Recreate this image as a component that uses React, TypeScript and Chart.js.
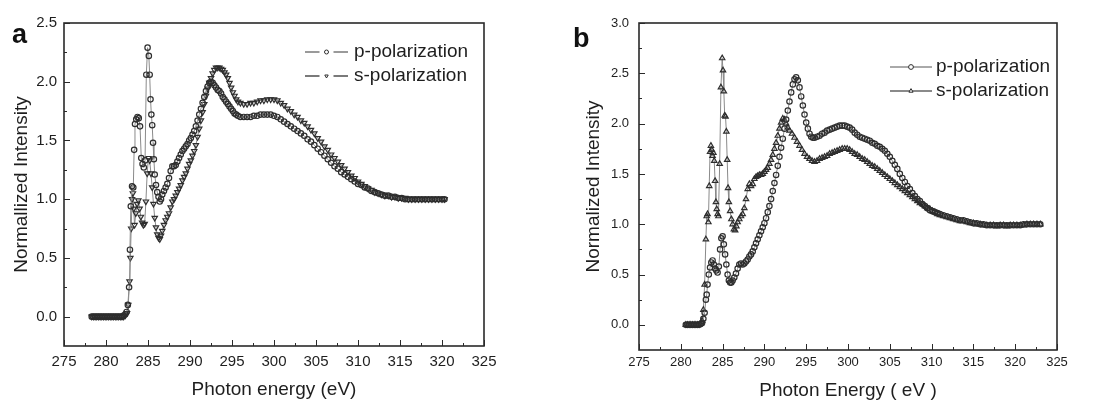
import React, { useEffect, useRef } from 'react';
import { Chart, registerables } from 'chart.js';
import { drawPoint } from 'chart.js/helpers';

Chart.register(...registerables);
Chart.defaults.font.family = '"Liberation Sans", Arial, sans-serif';

// ---------- tick values ----------
const X_TICKS = [275, 280, 285, 290, 295, 300, 305, 310, 315, 320, 325];
const A_Y_TICKS = [0, 0.5, 1.0, 1.5, 2.0, 2.5];
const B_Y_TICKS = [0, 0.5, 1.0, 1.5, 2.0, 2.5, 3.0];

// ---------- panel a : [photon energy eV, normalized intensity] ----------
const A_P = [
  [278.3, 0], [278.5, 0], [278.7, 0], [278.9, 0], [279.1, 0], [279.3, 0], [279.5, 0], [279.7, 0], [279.9, 0], [280.1, 0],
  [280.3, 0], [280.5, 0], [280.7, 0], [280.9, 0], [281.1, 0], [281.3, 0], [281.5, 0], [281.7, 0], [281.9, 0], [282.1, 0.01],
  [282.3, 0.02], [282.45, 0.04], [282.6, 0.1], [282.75, 0.25], [282.85, 0.57], [282.95, 0.94], [283.1, 1.11], [283.25, 1.1],
  [283.35, 1.42], [283.45, 1.64], [283.6, 1.68], [283.75, 1.7], [283.9, 1.69], [284.05, 1.62], [284.2, 1.35], [284.35, 1.3],
  [284.5, 1.27], [284.65, 1.33], [284.8, 2.06], [284.95, 2.29], [285.1, 2.22], [285.2, 2.06], [285.3, 1.85], [285.4, 1.72],
  [285.5, 1.63], [285.6, 1.48], [285.7, 1.34], [285.8, 1.21], [285.95, 1.12], [286.1, 1.06], [286.25, 1.02], [286.4, 0.98],
  [286.55, 1.0], [286.7, 1.04], [286.9, 1.07], [287.1, 1.1], [287.3, 1.13], [287.5, 1.18], [287.7, 1.24], [287.9, 1.28],
  [288.1, 1.28], [288.3, 1.29], [288.5, 1.32], [288.7, 1.35], [288.9, 1.38], [289.1, 1.41], [289.3, 1.43], [289.5, 1.45],
  [289.7, 1.47], [289.9, 1.5], [290.1, 1.52], [290.3, 1.55], [290.5, 1.58], [290.7, 1.62], [290.9, 1.67], [291.1, 1.72],
  [291.3, 1.77], [291.5, 1.82], [291.7, 1.87], [291.9, 1.92], [292.1, 1.96], [292.3, 1.99], [292.5, 2.0], [292.7, 1.99],
  [292.9, 1.97], [293.1, 1.95], [293.3, 1.93], [293.5, 1.92], [293.7, 1.9], [293.9, 1.87], [294.1, 1.85], [294.3, 1.83],
  [294.5, 1.81], [294.7, 1.79], [294.9, 1.77], [295.1, 1.75], [295.3, 1.73], [295.5, 1.72], [295.7, 1.71], [296.0, 1.7],
  [296.4, 1.7], [296.8, 1.7], [297.2, 1.7], [297.6, 1.71], [298.0, 1.71], [298.4, 1.72], [298.8, 1.72], [299.2, 1.72],
  [299.6, 1.72], [300.0, 1.71], [300.4, 1.7], [300.8, 1.68], [301.2, 1.66], [301.6, 1.64], [302.0, 1.62], [302.4, 1.6],
  [302.8, 1.58], [303.2, 1.56], [303.6, 1.54], [304.0, 1.51], [304.4, 1.49], [304.8, 1.46], [305.2, 1.43], [305.6, 1.4],
  [306.0, 1.37], [306.4, 1.34], [306.8, 1.31], [307.2, 1.28], [307.6, 1.26], [308.0, 1.23], [308.4, 1.21], [308.8, 1.19],
  [309.2, 1.17], [309.6, 1.15], [310.0, 1.13], [310.4, 1.12], [310.8, 1.1], [311.2, 1.09], [311.6, 1.07], [312.0, 1.06],
  [312.4, 1.05], [312.8, 1.04], [313.2, 1.03], [313.6, 1.03], [314.0, 1.02], [314.4, 1.02], [314.8, 1.01], [315.2, 1.01],
  [315.6, 1.0], [316.0, 1.0], [316.4, 1.0], [316.8, 1.0], [317.2, 1.0], [317.6, 1.0], [318.0, 1.0], [318.4, 1.0],
  [318.8, 1.0], [319.2, 1.0], [319.6, 1.0], [320.0, 1.0], [320.3, 1.0],
];

const A_S = [
  [278.3, 0], [278.5, 0], [278.7, 0], [278.9, 0], [279.1, 0], [279.3, 0], [279.5, 0], [279.7, 0], [279.9, 0], [280.1, 0],
  [280.3, 0], [280.5, 0], [280.7, 0], [280.9, 0], [281.1, 0], [281.3, 0], [281.5, 0], [281.7, 0], [281.9, 0], [282.1, 0],
  [282.3, 0.01], [282.5, 0.03], [282.65, 0.1], [282.8, 0.3], [282.9, 0.5], [283.0, 0.75], [283.1, 1.0], [283.2, 1.05],
  [283.3, 0.92], [283.4, 0.78], [283.55, 0.88], [283.7, 0.96], [283.85, 0.99], [284.0, 0.92], [284.15, 0.85], [284.3, 0.8],
  [284.45, 0.78], [284.6, 0.79], [284.75, 0.98], [284.9, 1.22], [285.05, 1.35], [285.2, 1.33], [285.35, 1.22], [285.5, 1.1],
  [285.65, 0.96], [285.8, 0.84], [285.95, 0.76], [286.1, 0.7], [286.25, 0.67], [286.4, 0.66], [286.55, 0.69], [286.7, 0.73],
  [286.9, 0.78], [287.1, 0.82], [287.3, 0.85], [287.5, 0.88], [287.7, 0.93], [287.9, 0.98], [288.1, 1.0], [288.3, 1.03],
  [288.5, 1.06], [288.7, 1.09], [288.9, 1.12], [289.1, 1.16], [289.3, 1.19], [289.5, 1.22], [289.7, 1.26], [289.9, 1.3],
  [290.1, 1.33], [290.3, 1.37], [290.5, 1.41], [290.7, 1.46], [290.9, 1.53], [291.1, 1.6], [291.3, 1.67], [291.5, 1.74],
  [291.7, 1.81], [291.9, 1.88], [292.1, 1.94], [292.3, 1.99], [292.5, 2.03], [292.7, 2.07], [292.9, 2.1], [293.1, 2.12],
  [293.3, 2.12], [293.5, 2.12], [293.7, 2.11], [293.9, 2.1], [294.1, 2.08], [294.3, 2.06], [294.5, 2.03], [294.7, 1.99],
  [294.9, 1.95], [295.1, 1.91], [295.3, 1.88], [295.5, 1.85], [295.7, 1.83], [296.0, 1.82], [296.4, 1.81], [296.8, 1.81],
  [297.2, 1.82], [297.6, 1.82], [298.0, 1.83], [298.4, 1.84], [298.8, 1.84], [299.2, 1.85], [299.6, 1.85], [300.0, 1.85],
  [300.4, 1.84], [300.8, 1.82], [301.2, 1.8], [301.6, 1.77], [302.0, 1.75], [302.4, 1.72], [302.8, 1.7], [303.2, 1.67],
  [303.6, 1.65], [304.0, 1.62], [304.4, 1.59], [304.8, 1.56], [305.2, 1.52], [305.6, 1.49], [306.0, 1.45], [306.4, 1.42],
  [306.8, 1.38], [307.2, 1.35], [307.6, 1.32], [308.0, 1.29], [308.4, 1.26], [308.8, 1.23], [309.2, 1.2], [309.6, 1.18],
  [310.0, 1.15], [310.4, 1.13], [310.8, 1.11], [311.2, 1.09], [311.6, 1.08], [312.0, 1.06], [312.4, 1.05], [312.8, 1.04],
  [313.2, 1.03], [313.6, 1.03], [314.0, 1.02], [314.4, 1.02], [314.8, 1.01], [315.2, 1.01], [315.6, 1.01], [316.0, 1.0],
  [316.4, 1.0], [316.8, 1.0], [317.2, 1.0], [317.6, 1.0], [318.0, 1.0], [318.4, 1.0], [318.8, 1.0], [319.2, 1.0],
  [319.6, 1.0], [320.0, 1.0], [320.3, 1.0],
];

// ---------- panel b ----------
const B_P = [
  [280.6, 0], [280.8, 0], [281.0, 0], [281.2, 0], [281.4, 0], [281.6, 0], [281.8, 0], [282.0, 0], [282.2, 0], [282.4, 0.01],
  [282.55, 0.02], [282.7, 0.06], [282.85, 0.12], [283.0, 0.25], [283.1, 0.3], [283.2, 0.4], [283.35, 0.5], [283.5, 0.57],
  [283.65, 0.62], [283.8, 0.64], [283.95, 0.6], [284.1, 0.56], [284.25, 0.54], [284.4, 0.52], [284.55, 0.58], [284.7, 0.75],
  [284.85, 0.86], [285.0, 0.88], [285.15, 0.8], [285.3, 0.7], [285.45, 0.6], [285.6, 0.5], [285.75, 0.44], [285.9, 0.42],
  [286.05, 0.42], [286.2, 0.44], [286.4, 0.47], [286.6, 0.51], [286.8, 0.56], [287.0, 0.6], [287.2, 0.61], [287.4, 0.6],
  [287.6, 0.61], [287.8, 0.63], [288.0, 0.65], [288.2, 0.68], [288.4, 0.7], [288.6, 0.73], [288.8, 0.77], [289.0, 0.81],
  [289.2, 0.85], [289.4, 0.89], [289.6, 0.93], [289.8, 0.97], [290.0, 1.01], [290.2, 1.06], [290.4, 1.12], [290.6, 1.18],
  [290.8, 1.25], [291.0, 1.33], [291.2, 1.41], [291.4, 1.49], [291.6, 1.58], [291.8, 1.67], [292.0, 1.76], [292.2, 1.85],
  [292.4, 1.95], [292.6, 2.04], [292.8, 2.13], [293.0, 2.22], [293.2, 2.31], [293.4, 2.39], [293.6, 2.44], [293.8, 2.46],
  [294.0, 2.43], [294.2, 2.36], [294.4, 2.27], [294.6, 2.18], [294.8, 2.09], [295.0, 2.01], [295.2, 1.95], [295.4, 1.9],
  [295.6, 1.87], [295.8, 1.86], [296.0, 1.86], [296.3, 1.87], [296.6, 1.88], [296.9, 1.9], [297.2, 1.91], [297.5, 1.93],
  [297.8, 1.94], [298.1, 1.95], [298.4, 1.96], [298.7, 1.97], [299.0, 1.98], [299.3, 1.98], [299.6, 1.98], [299.9, 1.97],
  [300.2, 1.96], [300.5, 1.94], [300.8, 1.91], [301.1, 1.89], [301.4, 1.87], [301.7, 1.86], [302.0, 1.85], [302.3, 1.84],
  [302.6, 1.83], [302.9, 1.81], [303.2, 1.8], [303.5, 1.78], [303.8, 1.77], [304.1, 1.75], [304.4, 1.73], [304.7, 1.7],
  [305.0, 1.67], [305.3, 1.63], [305.6, 1.59], [305.9, 1.55], [306.2, 1.5], [306.5, 1.46], [306.8, 1.42], [307.1, 1.38],
  [307.4, 1.35], [307.7, 1.31], [308.0, 1.28], [308.3, 1.25], [308.6, 1.23], [308.9, 1.2], [309.2, 1.18], [309.5, 1.16],
  [309.8, 1.14], [310.1, 1.13], [310.4, 1.12], [310.7, 1.11], [311.0, 1.1], [311.4, 1.09], [311.8, 1.08], [312.2, 1.07],
  [312.6, 1.06], [313.0, 1.05], [313.4, 1.04], [313.8, 1.04], [314.2, 1.03], [314.6, 1.02], [315.0, 1.01], [315.4, 1.01],
  [315.8, 1.0], [316.2, 1.0], [316.6, 0.99], [317.0, 0.99], [317.4, 0.99], [317.8, 0.99], [318.2, 0.99], [318.6, 0.99],
  [319.0, 0.99], [319.4, 0.99], [319.8, 0.99], [320.2, 0.99], [320.6, 0.99], [321.0, 1.0], [321.4, 1.0], [321.8, 1.0],
  [322.2, 1.0], [322.6, 1.0], [323.0, 1.0],
];

const B_S = [
  [280.6, 0], [280.8, 0], [281.0, 0], [281.2, 0], [281.4, 0], [281.6, 0], [281.8, 0], [282.0, 0], [282.2, 0], [282.4, 0.01],
  [282.55, 0.04], [282.7, 0.15], [282.85, 0.4], [283.0, 0.85], [283.1, 1.08], [283.2, 1.1], [283.3, 1.02], [283.4, 1.38],
  [283.5, 1.72], [283.6, 1.78], [283.7, 1.74], [283.8, 1.68], [283.9, 1.71], [284.0, 1.63], [284.1, 1.43], [284.2, 1.22],
  [284.3, 1.15], [284.4, 1.1], [284.5, 1.08], [284.65, 1.6], [284.8, 2.36], [284.95, 2.65], [285.05, 2.53], [285.15, 2.32],
  [285.25, 2.08], [285.35, 2.07], [285.45, 1.92], [285.55, 1.64], [285.65, 1.36], [285.75, 1.22], [285.9, 1.13], [286.05, 1.05],
  [286.2, 1.0], [286.35, 0.95], [286.5, 0.94], [286.65, 0.98], [286.8, 1.02], [287.0, 1.05], [287.2, 1.08], [287.4, 1.1],
  [287.6, 1.16], [287.8, 1.25], [288.0, 1.35], [288.2, 1.4], [288.4, 1.38], [288.6, 1.4], [288.8, 1.45], [289.0, 1.47],
  [289.2, 1.48], [289.4, 1.49], [289.6, 1.49], [289.8, 1.5], [290.0, 1.52], [290.2, 1.54], [290.4, 1.56], [290.6, 1.6],
  [290.8, 1.64], [291.0, 1.69], [291.2, 1.75], [291.4, 1.81], [291.6, 1.88], [291.8, 1.95], [292.0, 2.01], [292.2, 2.05],
  [292.4, 2.04], [292.6, 2.0], [292.8, 1.96], [293.0, 1.93], [293.3, 1.9], [293.6, 1.86], [293.9, 1.82], [294.2, 1.78],
  [294.5, 1.74], [294.8, 1.7], [295.1, 1.67], [295.4, 1.65], [295.7, 1.63], [296.0, 1.62], [296.3, 1.63], [296.6, 1.65],
  [296.9, 1.66], [297.2, 1.67], [297.5, 1.68], [297.8, 1.7], [298.1, 1.71], [298.4, 1.72], [298.7, 1.73], [299.0, 1.74],
  [299.3, 1.75], [299.6, 1.75], [299.9, 1.75], [300.2, 1.74], [300.5, 1.72], [300.8, 1.7], [301.1, 1.69], [301.4, 1.67],
  [301.7, 1.65], [302.0, 1.64], [302.3, 1.62], [302.6, 1.6], [302.9, 1.58], [303.2, 1.57], [303.5, 1.55], [303.8, 1.53],
  [304.1, 1.51], [304.4, 1.49], [304.7, 1.47], [305.0, 1.45], [305.3, 1.43], [305.6, 1.41], [305.9, 1.39], [306.2, 1.37],
  [306.5, 1.35], [306.8, 1.33], [307.1, 1.31], [307.4, 1.29], [307.7, 1.27], [308.0, 1.25], [308.3, 1.23], [308.6, 1.21],
  [308.9, 1.2], [309.2, 1.18], [309.5, 1.16], [309.8, 1.15], [310.1, 1.13], [310.4, 1.12], [310.7, 1.1], [311.0, 1.09],
  [311.4, 1.08], [311.8, 1.07], [312.2, 1.06], [312.6, 1.05], [313.0, 1.04], [313.4, 1.03], [313.8, 1.03], [314.2, 1.02],
  [314.6, 1.01], [315.0, 1.01], [315.4, 1.0], [315.8, 1.0], [316.2, 0.99], [316.6, 0.99], [317.0, 0.99], [317.4, 0.99],
  [317.8, 0.98], [318.2, 0.99], [318.6, 0.99], [319.0, 0.98], [319.4, 0.99], [319.8, 0.99], [320.2, 0.99], [320.6, 0.99],
  [321.0, 0.99], [321.4, 1.0], [321.8, 1.0], [322.2, 1.0], [322.6, 1.0], [323.0, 1.0],
];

const SERIES_LABELS = ['p-polarization', 's-polarization'];

const TEXT = '#1e1e1e';
const FRAME = '#2a2a2a';
const MARK = '#2e2e2e';
const LINE = '#8a8a8a';

// Inward ticks + frame box, placed with the library's scales
const frameTicks = {
  id: 'frameTicks',
  afterDatasetsDraw(chart: any, _a: any, opts: any) {
    const { ctx, chartArea, scales } = chart;
    const { left, right, top, bottom } = chartArea;
    const x = scales.x;
    const y = scales.y;
    ctx.save();
    ctx.strokeStyle = FRAME;
    ctx.lineWidth = 1;
    const xt: number[] = opts.xTicks;
    const yt: number[] = opts.yTicks;
    const seg = (x1: number, y1: number, x2: number, y2: number) => {
      ctx.beginPath();
      ctx.moveTo(x1, y1);
      ctx.lineTo(x2, y2);
      ctx.stroke();
    };
    for (let i = 0; i < xt.length; i++) {
      const px = Math.round(x.getPixelForValue(xt[i])) + 0.5;
      seg(px, bottom, px, bottom - opts.major);
      if (i < xt.length - 1) {
        const m = Math.round(x.getPixelForValue((xt[i] + xt[i + 1]) / 2)) + 0.5;
        seg(m, bottom, m, bottom - opts.minor);
      }
    }
    for (let i = 0; i < yt.length; i++) {
      const py = Math.round(y.getPixelForValue(yt[i])) + 0.5;
      seg(left, py, left + opts.major, py);
      if (i < yt.length - 1) {
        const m = Math.round(y.getPixelForValue((yt[i] + yt[i + 1]) / 2)) + 0.5;
        seg(left, m, left + opts.minor, m);
      }
    }
    ctx.lineWidth = 1.6;
    ctx.strokeRect(left, top, right - left, bottom - top);
    ctx.restore();
  },
};

// Legend (line - marker - line, text) and panel letter
const panelLegend = {
  id: 'panelLegend',
  afterDraw(chart: any, _a: any, opts: any) {
    const { ctx } = chart;
    ctx.save();
    ctx.fillStyle = '#111';
    ctx.textAlign = 'left';
    ctx.textBaseline = 'alphabetic';
    ctx.font = `bold ${opts.letterSize}px "Liberation Sans", Arial, sans-serif`;
    ctx.fillText(opts.letter, opts.letterX, opts.letterY);

    chart.data.datasets.forEach((ds: any, i: number) => {
      const yy = opts.y0 + i * opts.dy;
      const mid = (opts.x0 + opts.x1) / 2;
      ctx.strokeStyle = opts.lineColor[i];
      ctx.lineWidth = opts.lineWidth[i];
      ctx.beginPath();
      if (opts.gap > 0) {
        ctx.moveTo(opts.x0, yy);
        ctx.lineTo(mid - opts.gap, yy);
        ctx.moveTo(mid + opts.gap, yy);
        ctx.lineTo(opts.x1, yy);
      } else {
        ctx.moveTo(opts.x0, yy);
        ctx.lineTo(opts.x1, yy);
      }
      ctx.stroke();
      ctx.fillStyle = '#ffffff';
      ctx.strokeStyle = MARK;
      ctx.lineWidth = 1;
      drawPoint(ctx, {
        pointStyle: ds.pointStyle,
        rotation: ds.pointRotation || 0,
        radius: opts.markRadius,
        borderWidth: 1,
      } as any, mid, yy);
      ctx.fillStyle = TEXT;
      ctx.font = `${opts.fontSize}px "Liberation Sans", Arial, sans-serif`;
      ctx.textBaseline = 'middle';
      ctx.fillText(ds.label, opts.tx, yy);
    });
    ctx.restore();
  },
};

type PanelCfg = {
  p: number[][];
  s: number[][];
  sRotation: number;
  yTicks: number[];
  yMax: number;
  yTitle: string;
  xTitle: string;
  yAxisWidth: number;
  xAxisHeight: number;
  padRight: number;
  padTop: number;
  tickFont: number;
  yTickPad: number;
  xTickPad: number;
  yTitlePad: number;
  xTitlePad: number;
  legend: any;
};

function buildConfig(c: PanelCfg): any {
  const mk = (arr: number[][]) => arr.map(([x, y]) => ({ x, y }));
  return {
    type: 'scatter',
    data: {
      datasets: [
        {
          label: SERIES_LABELS[0],
          data: mk(c.p),
          showLine: true,
          borderColor: LINE,
          borderWidth: 1,
          pointStyle: 'circle',
          pointRadius: 2.7,
          pointBorderWidth: 1.2,
          pointBorderColor: MARK,
          pointBackgroundColor: 'rgba(255,255,255,0)',
        },
        {
          label: SERIES_LABELS[1],
          data: mk(c.s),
          showLine: true,
          borderColor: LINE,
          borderWidth: 1,
          pointStyle: 'triangle',
          pointRotation: c.sRotation,
          pointRadius: 3.1,
          pointBorderWidth: 1.2,
          pointBorderColor: MARK,
          pointBackgroundColor: 'rgba(255,255,255,0)',
        },
      ],
    },
    options: {
      animation: false,
      responsive: true,
      maintainAspectRatio: false,
      events: [],
      layout: { padding: { left: 0, right: c.padRight, top: c.padTop, bottom: 0 } },
      plugins: {
        legend: { display: false },
        tooltip: { enabled: false },
        frameTicks: { xTicks: X_TICKS, yTicks: c.yTicks, major: 6, minor: 3 },
        panelLegend: c.legend,
      },
      scales: {
        x: {
          type: 'linear',
          min: X_TICKS[0],
          max: X_TICKS[X_TICKS.length - 1],
          grid: { display: false, drawTicks: false },
          border: { display: false },
          afterBuildTicks: (s: any) => {
            s.ticks = X_TICKS.map((value) => ({ value }));
          },
          afterFit: (s: any) => {
            s.height = c.xAxisHeight;
          },
          ticks: {
            padding: c.xTickPad,
            color: TEXT,
            font: { size: c.tickFont },
            maxRotation: 0,
            autoSkip: false,
            callback: (v: any) => String(v),
          },
          title: {
            display: true,
            text: c.xTitle,
            color: TEXT,
            font: { size: 19 },
            padding: { top: 0, bottom: c.xTitlePad },
          },
        },
        y: {
          type: 'linear',
          min: -0.25,
          max: c.yMax,
          grid: { display: false, drawTicks: false },
          border: { display: false },
          afterBuildTicks: (s: any) => {
            s.ticks = c.yTicks.map((value) => ({ value }));
          },
          afterFit: (s: any) => {
            s.width = c.yAxisWidth;
          },
          ticks: {
            padding: c.yTickPad,
            color: TEXT,
            font: { size: c.tickFont },
            autoSkip: false,
            callback: (v: any) => Number(v).toFixed(1),
          },
          title: {
            display: true,
            text: c.yTitle,
            color: TEXT,
            font: { size: 19 },
            padding: { top: c.yTitlePad, bottom: 0 },
          },
        },
      },
    },
    plugins: [frameTicks, panelLegend],
  };
}

const PANEL_A: PanelCfg = {
  p: A_P,
  s: A_S,
  sRotation: 180,
  yTicks: A_Y_TICKS,
  yMax: 2.5,
  yTitle: 'Normallized Intensity',
  xTitle: 'Photon energy (eV)',
  yAxisWidth: 64,
  xAxisHeight: 57,
  padRight: 65,
  padTop: 23,
  tickFont: 15,
  yTickPad: 7,
  xTickPad: 7,
  yTitlePad: 10,
  xTitlePad: 2,
  legend: {
    letter: 'a', letterSize: 27, letterX: 12, letterY: 43,
    x0: 305, x1: 348, gap: 7, tx: 354, y0: 52, dy: 24,
    lineColor: ['#9a9a9a', '#7a7a7a'], lineWidth: [2, 2],
    markRadius: 2, fontSize: 19,
  },
};

const PANEL_B: PanelCfg = {
  p: B_P,
  s: B_S,
  sRotation: 0,
  yTicks: B_Y_TICKS,
  yMax: 3.0,
  yTitle: 'Normalized Intensity',
  xTitle: 'Photon Energy ( eV )',
  yAxisWidth: 90,
  xAxisHeight: 53,
  padRight: 41,
  padTop: 23,
  tickFont: 13,
  yTickPad: 10,
  xTickPad: 5,
  yTitlePad: 33,
  xTitlePad: 1,
  legend: {
    letter: 'b', letterSize: 27, letterX: 24, letterY: 47,
    x0: 341, x1: 383, gap: 0, tx: 387, y0: 67, dy: 24,
    lineColor: ['#555555', '#8a8a8a'], lineWidth: [1, 2.2],
    markRadius: 2.4, fontSize: 19,
  },
};

function Panel({ cfg, left }: { cfg: PanelCfg; left: number }) {
  const ref = useRef<HTMLCanvasElement | null>(null);
  useEffect(() => {
    if (!ref.current) return;
    const chart = new Chart(ref.current, buildConfig(cfg));
    return () => chart.destroy();
  }, [cfg]);
  return (
    <div style={{ position: 'absolute', left, top: 0, width: 549, height: 403 }}>
      <canvas ref={ref} style={{ display: 'block' }} />
    </div>
  );
}

export default function App() {
  return (
    <div style={{ position: 'absolute', left: 0, top: 0, width: 1098, height: 403, background: '#ffffff', overflow: 'hidden' }}>
      <Panel cfg={PANEL_A} left={0} />
      <Panel cfg={PANEL_B} left={549} />
    </div>
  );
}
